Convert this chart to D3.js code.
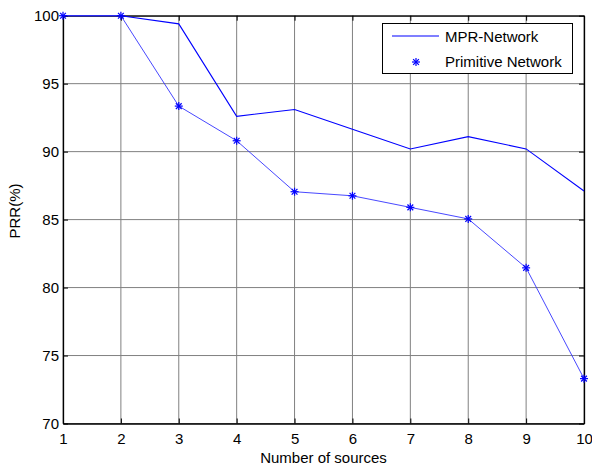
<!DOCTYPE html>
<html><head><meta charset="utf-8">
<script src="https://cdn.jsdelivr.net/npm/d3@7"></script>
<style>body{margin:0;background:#fff}svg{display:block;font-family:"Liberation Sans",Arial,sans-serif}</style>
</head><body><svg id="c" width="592" height="468"></svg>
<script>
const sources = [1,2,3,4,5,6,7,8,9,10];
const mprNetwork = [100,100,99.4,92.6,93.1,91.65,90.2,91.1,90.2,87.1];
const primitiveNetwork = [100,100,93.35,90.8,87.05,86.75,85.9,85.05,81.45,73.3];
const yTicks = [70,75,80,85,90,95,100];
const seriesNames = ["MPR-Network","Primitive Network"];

const svg = d3.select("#c");
const L=63, R=584, T=15.7, B=423.5;
const x = d3.scaleLinear().domain([1,10]).range([L,R]);
const y = d3.scaleLinear().domain([70,100]).range([B,T]);
const fs = 15;

// grid
const g = svg.append("g");
g.selectAll(".vg").data(sources).join("line")
  .attr("x1",d=>x(d)).attr("x2",d=>x(d)).attr("y1",T).attr("y2",B)
  .attr("stroke","#808080").attr("stroke-width",1);
g.selectAll(".hg").data(yTicks).join("line")
  .attr("y1",d=>y(d)).attr("y2",d=>y(d)).attr("x1",L).attr("x2",R)
  .attr("stroke","#808080").attr("stroke-width",1);

// axes with inward ticks
const xb = svg.append("g").attr("transform",`translate(0,${B})`)
  .call(d3.axisBottom(x).tickValues(sources).tickFormat(d3.format("d")).tickSizeInner(-5).tickSizeOuter(0).tickPadding(10));
const xt = svg.append("g").attr("transform",`translate(0,${T})`)
  .call(d3.axisTop(x).tickValues(sources).tickFormat("").tickSizeInner(-5).tickSizeOuter(0));
const yl = svg.append("g").attr("transform",`translate(${L},0)`)
  .call(d3.axisLeft(y).tickValues(yTicks).tickFormat(d3.format("d")).tickSizeInner(-5).tickSizeOuter(0).tickPadding(4));
const yr = svg.append("g").attr("transform",`translate(${R},0)`)
  .call(d3.axisRight(y).tickValues(yTicks).tickFormat("").tickSizeInner(-5).tickSizeOuter(0));
[xb,xt,yl,yr].forEach(a=>{
  a.select(".domain").attr("stroke","#000").attr("stroke-width",1.3);
  a.selectAll(".tick line").attr("stroke","#000");
  a.selectAll("text").attr("font-size",fs).attr("fill","#000").attr("font-family","Liberation Sans, Arial, sans-serif");
});
yl.selectAll("text").attr("dy","0.35em");

// lines
const line = (vals)=>d3.line().x((d,i)=>x(sources[i])).y(d=>y(d))(vals);
svg.append("path").attr("d",line(mprNetwork)).attr("fill","none").attr("stroke","#0000ff").attr("stroke-width",1.1);
svg.append("path").attr("d",line(primitiveNetwork)).attr("fill","none").attr("stroke","#3333ff").attr("stroke-width",0.9);

function star(sel, cx, cy, r){
  const gg = sel.append("g").attr("transform",`translate(${cx},${cy})`).attr("stroke","#0000ff").attr("stroke-width",1.2);
  gg.append("line").attr("x1",-r).attr("x2",r).attr("y1",0).attr("y2",0);
  gg.append("line").attr("x1",0).attr("x2",0).attr("y1",-r).attr("y2",r);
  const d=r*0.72;
  gg.append("line").attr("x1",-d).attr("x2",d).attr("y1",-d).attr("y2",d);
  gg.append("line").attr("x1",-d).attr("x2",d).attr("y1",d).attr("y2",-d);
}
primitiveNetwork.forEach((v,i)=>star(svg, x(sources[i]), y(v), 4));

// labels
svg.append("text").attr("x",(L+R)/2).attr("y",463).attr("text-anchor","middle").attr("font-size",fs).text("Number of sources");
svg.append("text").attr("transform","translate(20,211) rotate(-90)").attr("text-anchor","middle").attr("font-size",fs).text("PRR(%)");

// legend
const lg = svg.append("g");
lg.append("rect").attr("x",382.5).attr("y",23.5).attr("width",190).attr("height",50).attr("fill","#fff").attr("stroke","#000").attr("stroke-width",1);
lg.append("line").attr("x1",392).attr("x2",439).attr("y1",36).attr("y2",36).attr("stroke","#0000ff").attr("stroke-width",1.1);
star(lg, 416, 62, 4);
lg.append("text").attr("x",445).attr("y",41.5).attr("font-size",fs).text(seriesNames[0]);
lg.append("text").attr("x",445).attr("y",66.5).attr("font-size",fs).text(seriesNames[1]);
</script></body></html>
